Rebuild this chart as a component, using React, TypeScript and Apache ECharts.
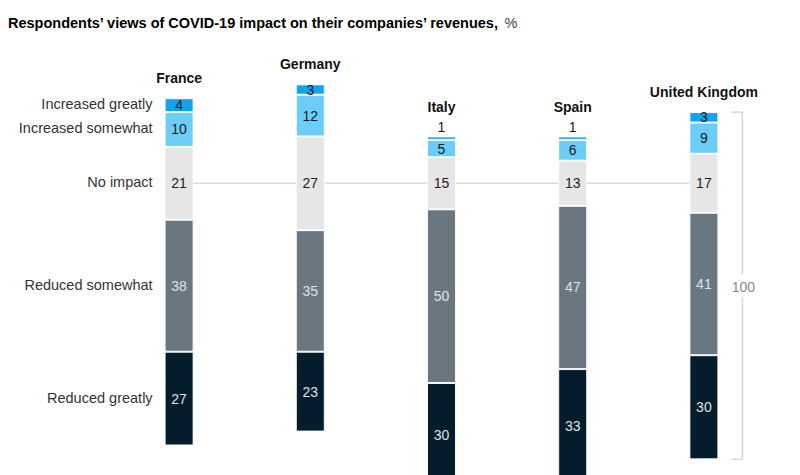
import React, { useEffect, useRef } from "react";
import * as echarts from "echarts";

const categories = ["France", "Germany", "Italy", "Spain", "United Kingdom"];
const increasedGreatly = [4, 3, 1, 1, 3];
const increasedSomewhat = [10, 12, 5, 6, 9];
const noImpact = [21, 27, 15, 13, 17];
const reducedSomewhat = [38, 35, 50, 47, 41];
const reducedGreatly = [27, 23, 30, 33, 30];
const segmentNames = ["Reduced greatly", "Reduced somewhat", "No impact", "Increased somewhat", "Increased greatly"];
const segmentColors = ["#051c2c", "#6a7780", "#e6e6e6", "#6ccdf9", "#12a3ec"];
const labelColors = ["#dfe3e6", "#dfe3e6", "#222222", "#1a1a1a", "#1a1a1a"];
const bracketTotal = "100";
const titleMain = "Respondents’ views of COVID-19 impact on their companies’ revenues,";
const titleUnit = "%";

const CENTER = 100;
const FONT = "Liberation Sans, Arial, Helvetica, sans-serif";

export default function App() {
  const ref = useRef<HTMLDivElement>(null);
  useEffect(() => {
    if (!ref.current) return;
    const chart = echarts.init(ref.current, undefined, { renderer: "svg" });
    const segments = [reducedGreatly, reducedSomewhat, noImpact, increasedSomewhat, increasedGreatly];
    const offsets = categories.map((_, i) => CENTER - reducedGreatly[i] - reducedSomewhat[i] - noImpact[i] / 2);
    const barWidth = 29;

    const series: any[] = [
      {
        name: "base",
        type: "bar",
        stack: "total",
        barWidth,
        silent: true,
        clip: false,
        itemStyle: { color: "rgba(0,0,0,0)" },
        label: { show: false },
        data: offsets,
      },
    ];
    segments.forEach((arr, s) => {
      series.push({
        name: segmentNames[s],
        type: "bar",
        stack: "total",
        barWidth,
        clip: false,
        itemStyle: { color: segmentColors[s], borderColor: "rgba(255,255,255,0.9)", borderWidth: 1 },
        label: {
          show: true,
          position: "inside",
          color: labelColors[s],
          fontFamily: FONT,
          fontSize: 14,
          formatter: "{c}",
        },
        data: arr.map((v) =>
          s === 4 && v <= 1
            ? { value: v, label: { position: "top", distance: 2, color: "#1a1a1a" } }
            : v
        ),
      });
    });

    chart.setOption({
      animation: false,
      title: {
        text: `{b|${titleMain}} {n|${titleUnit}}`,
        left: 3,
        top: 9,
        textStyle: {
          rich: {
            b: { fontFamily: FONT, fontWeight: "bold", fontSize: 14.5, color: "#000" },
            n: { fontFamily: FONT, fontWeight: "normal", fontSize: 14.5, color: "#444" },
          },
        },
      },
      grid: { left: 113.5, right: 30.5, top: 10, bottom: 0, containLabel: false },
      xAxis: {
        type: "category",
        data: categories,
        show: false,
      },
      yAxis: { type: "value", min: 16, max: 149.9, show: false },
      series,
    });

    const px = (ci: number, v: number) => chart.convertToPixel({ xAxisIndex: 0, yAxisIndex: 0 }, [ci, v]) as number[];
    const graphics: any[] = [];

    const lStart = px(0, CENTER);
    const lEnd = px(categories.length - 1, CENTER);
    graphics.push({
      type: "line",
      z: 0,
      shape: { x1: lStart[0], y1: lStart[1], x2: lEnd[0], y2: lEnd[1] },
      style: { stroke: "#d9d9d9", lineWidth: 1.5 },
    });

    let cum = offsets[0];
    segments.forEach((arr, s) => {
      const mid = cum + arr[0] / 2;
      cum += arr[0];
      const p = px(0, mid);
      graphics.push({
        type: "text",
        x: p[0] - barWidth / 2 - 12,
        y: p[1] - 1,
        style: {
          text: segmentNames[s],
          fill: "#333",
          font: `14.5px ${FONT}`,
          textAlign: "right",
          textVerticalAlign: "middle",
        },
      });
    });

    categories.forEach((c, i) => {
      const total = segments.reduce((a, arr) => a + arr[i], 0);
      const p = px(i, offsets[i] + total);
      graphics.push({
        type: "text",
        x: p[0],
        y: p[1] - (increasedGreatly[i] <= 1 ? 29 : 20),
        style: {
          text: c,
          fill: "#111",
          font: `bold 14px ${FONT}`,
          textAlign: "center",
          textVerticalAlign: "middle",
        },
      });
    });

    const li = categories.length - 1;
    const lastTotal = segments.reduce((a, arr) => a + arr[li], 0);
    const bTop = px(li, offsets[li] + lastTotal);
    const bBot = px(li, offsets[li]);
    const bx = bTop[0] + barWidth / 2 + 24;
    const mid = (bTop[1] + bBot[1]) / 2;
    const bStyle = { stroke: "#d6d6d6", lineWidth: 1.5 };
    graphics.push(
      { type: "line", shape: { x1: bx - 11, y1: bTop[1], x2: bx, y2: bTop[1] }, style: bStyle },
      { type: "line", shape: { x1: bx - 11, y1: bBot[1], x2: bx, y2: bBot[1] }, style: bStyle },
      { type: "line", shape: { x1: bx, y1: bTop[1], x2: bx, y2: mid - 12 }, style: bStyle },
      { type: "line", shape: { x1: bx, y1: mid + 12, x2: bx, y2: bBot[1] }, style: bStyle },
      {
        type: "text",
        x: bx + 1,
        y: mid + 1,
        style: {
          text: bracketTotal,
          fill: "#888",
          font: `14px ${FONT}`,
          textAlign: "center",
          textVerticalAlign: "middle",
        },
      }
    );

    chart.setOption({ graphic: graphics });
    return () => chart.dispose();
  }, []);
  return (
    <div
      ref={ref}
      style={{ position: "absolute", left: 0, top: 0, width: 800, height: 475, background: "#fff" }}
    />
  );
}
